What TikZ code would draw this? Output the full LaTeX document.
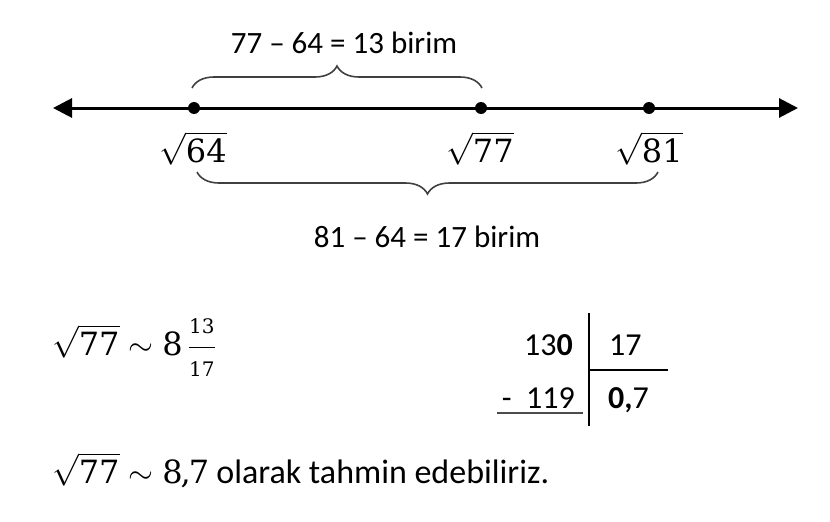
\RequirePackage{fix-cm}
\documentclass[tikz,border=0pt]{standalone}
\usepackage{amsmath}
\usepackage{fontspec}
\setmainfont{Carlito}
\newfontfamily\dvs{DejaVu Serif}
\newcommand{\snum}[1]{\text{\dvs #1}}
\newcommand{\sfracnum}[1]{\hbox{\dvs\fontsize{20}{22}\selectfont #1}}
\usetikzlibrary{arrows.meta,decorations.pathreplacing}
\begin{document}
\begin{tikzpicture}[x=1pt,y=-1pt,
  txt/.style={font=\fontsize{31}{37}\selectfont, inner sep=0pt},
  num/.style={font=\fontsize{32}{38}\selectfont, inner sep=0pt},
  dotn/.style={circle, fill=black, minimum size=12pt, inner sep=0pt},
  axis/.style={line width=3pt, {Triangle[length=19pt,width=19pt]}-{Triangle[length=19pt,width=19pt]}},
  bracel/.style={decorate, decoration={brace, amplitude=22pt}, line width=1.6pt, black!75},
  rule/.style={line width=2pt}]
\useasboundingbox (0,0) rectangle (830,522);
% number line
\coordinate (L) at (53,108);
\coordinate (R) at (798,108);
\draw[axis] (L) -- (R);
\node[dotn] (p64) at (194,108) {};
\node[dotn] (p77) at (481,108) {};
\node[dotn] (p81) at (649,108) {};
\node[num, anchor=base] (l64) at (193,162) {$\sqrt{\snum{64}}$};
\node[num, anchor=base] (l77) at (480,162) {$\sqrt{\snum{77}}$};
\node[num, anchor=base] (l81) at (649,162) {$\sqrt{\snum{81}}$};
% braces
\coordinate (b1a) at (192,88);
\coordinate (b1b) at (482,88);
\draw[bracel] (b1a) -- (b1b);
\node[txt] (t1) at (344,43) {77 – 64 = 13 birim};
\coordinate (b2a) at (658,172);
\coordinate (b2b) at (197,172);
\draw[bracel] (b2a) -- (b2b);
\node[txt] (t2) at (427,237) {81 – 64 = 17 birim};
% estimate
\node[num, anchor=base west] (e1) at (52,355) {$\sqrt{\snum{77}}\sim\snum{8}\,\dfrac{\sfracnum{13}}{\sfracnum{17}}$};
% division
\node[num, anchor=base east] (n130) at (573,355) {13\textbf{0}};
\node[num, anchor=base west] (n17) at (609,355) {17};
\node[num, anchor=base east] (n119) at (575,408) {-\ \ 119};
\node[num, anchor=base west] (q) at (608,408) {\textbf{0,}7};
\coordinate (v1) at (589,313);
\coordinate (v2) at (589,426);
\coordinate (h1) at (589,370);
\coordinate (h2) at (668,370);
\coordinate (u1) at (497,413);
\coordinate (u2) at (583,413);
\draw[rule] (v1) -- (v2);
\draw[rule] (h1) -- (h2);
\draw[rule, black!70] (u1) -- (u2);
% conclusion
\node[num, anchor=base west] (c) at (52,483) {$\sqrt{\snum{77}}\sim\snum{8\kern-2pt,\kern-2pt7}$ {\fontsize{34}{40}\selectfont olarak tahmin edebiliriz.}};
\end{tikzpicture}
\end{document}
